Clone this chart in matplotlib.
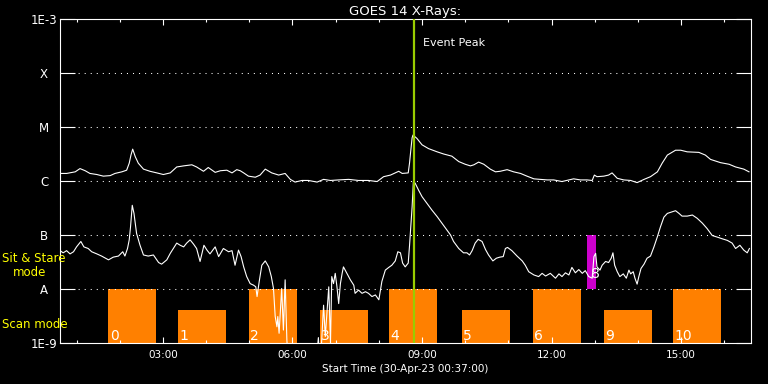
import numpy as np
import matplotlib.pyplot as plt
import matplotlib.ticker as mticker

# GOES 14 X-ray fluxes, hours after midnight and log10(W/m^2)
long_t = [0.62, 0.77, 0.97, 1.08, 1.20, 1.31, 1.47, 1.62, 1.78, 1.89,
          2.05, 2.16, 2.22, 2.26, 2.30, 2.36, 2.43, 2.55, 2.70, 2.86,
          3.01, 3.17, 3.32, 3.48, 3.67, 3.78, 3.94, 4.05, 4.21, 4.33,
          4.48, 4.60, 4.71, 4.79, 4.87, 4.98, 5.14, 5.25, 5.37, 5.52,
          5.68, 5.83, 5.95, 6.06, 6.22, 6.37, 6.57, 6.72, 6.88, 7.07,
          7.30, 7.53, 7.76, 7.96, 8.11, 8.27, 8.46, 8.54, 8.68, 8.71,
          8.74, 8.77, 8.79, 8.88, 9.00, 9.15, 9.35, 9.50, 9.69, 9.85,
          10.00, 10.12, 10.20, 10.31, 10.43, 10.58, 10.70, 10.81, 10.97, 11.12,
          11.28, 11.43, 11.59, 11.74, 11.90, 12.05, 12.24, 12.40, 12.51, 12.67,
          12.82, 12.94, 12.99, 13.05, 13.21, 13.32, 13.40, 13.52, 13.67, 13.83,
          13.98, 14.14, 14.29, 14.45, 14.56, 14.68, 14.87, 14.99, 15.14, 15.41,
          15.56, 15.68, 15.91, 16.11, 16.26, 16.45, 16.57]
long_logf = [-5.86, -5.86, -5.83, -5.77, -5.81, -5.86, -5.88, -5.91, -5.90, -5.86,
             -5.83, -5.80, -5.67, -5.52, -5.41, -5.55, -5.67, -5.78, -5.82, -5.85,
             -5.88, -5.85, -5.74, -5.72, -5.70, -5.74, -5.82, -5.75, -5.84, -5.81,
             -5.80, -5.85, -5.79, -5.81, -5.85, -5.91, -5.93, -5.89, -5.78, -5.85,
             -5.89, -5.86, -5.97, -6.02, -5.99, -5.99, -6.02, -5.97, -5.99, -5.98,
             -5.97, -5.99, -5.99, -6.01, -5.92, -5.89, -5.82, -5.86, -5.85, -5.67,
             -5.43, -5.20, -5.15, -5.21, -5.33, -5.40, -5.46, -5.50, -5.54, -5.64,
             -5.69, -5.72, -5.70, -5.65, -5.69, -5.78, -5.83, -5.82, -5.79, -5.83,
             -5.86, -5.91, -5.96, -5.97, -5.98, -5.98, -6.01, -5.98, -5.96, -5.98,
             -5.98, -5.99, -5.89, -5.92, -5.91, -5.89, -5.85, -5.95, -5.98, -5.99,
             -6.03, -5.97, -5.92, -5.83, -5.67, -5.52, -5.43, -5.43, -5.46, -5.47,
             -5.52, -5.60, -5.66, -5.69, -5.74, -5.78, -5.83]

short_t = [0.62, 0.69, 0.77, 0.85, 0.93, 1.00, 1.10, 1.17, 1.27, 1.35,
           1.47, 1.58, 1.74, 1.85, 1.97, 2.07, 2.12, 2.18, 2.22, 2.25,
           2.29, 2.33, 2.39, 2.47, 2.55, 2.66, 2.78, 2.90, 2.97, 3.09,
           3.17, 3.32, 3.40, 3.48, 3.55, 3.63, 3.71, 3.78, 3.86, 3.95,
           4.02, 4.09, 4.21, 4.29, 4.40, 4.52, 4.60, 4.67, 4.75,
           4.81, 4.87, 4.94, 5.02, 5.10, 5.15, 5.18, 5.23, 5.29, 5.37,
           5.45, 5.51, 5.56, 5.60, 5.64, 5.66, 5.69, 5.75, 5.79, 5.83,
           5.87, 5.91, 6.53, 6.60, 6.64, 6.72, 6.76, 6.84, 6.88, 6.91,
           6.95, 6.99, 7.03, 7.07, 7.11, 7.15, 7.18, 7.26, 7.34, 7.42,
           7.45, 7.53, 7.61, 7.69, 7.76, 7.84, 7.92, 8.00, 8.07, 8.15,
           8.23, 8.30, 8.38, 8.44, 8.50, 8.55, 8.61, 8.68, 8.71, 8.74,
           8.77, 8.80,
           8.84, 8.92, 9.00, 9.11, 9.23, 9.35, 9.46, 9.58, 9.66, 9.73,
           9.85, 9.96, 10.04, 10.10, 10.16, 10.23, 10.30, 10.39, 10.47, 10.54,
           10.64, 10.72, 10.80, 10.88, 10.93, 10.98, 11.08, 11.20, 11.32, 11.39,
           11.47, 11.59, 11.70, 11.78, 11.86, 11.97, 12.09, 12.17, 12.24, 12.32,
           12.40, 12.47, 12.55, 12.63, 12.71, 12.78, 12.86,
           12.94, 12.98, 13.02, 13.05, 13.12, 13.17, 13.25, 13.32, 13.38, 13.42,
           13.46, 13.52, 13.58, 13.66, 13.73, 13.79, 13.83, 13.89, 13.93, 13.98,
           14.02, 14.07, 14.14, 14.21, 14.29, 14.37, 14.45, 14.52, 14.60, 14.68,
           14.79, 14.87, 14.95, 15.02, 15.14, 15.26, 15.37, 15.49, 15.60, 15.72,
           15.84, 15.95, 16.07, 16.18, 16.26, 16.36, 16.45, 16.53, 16.58]
short_logf = [-7.29, -7.33, -7.29, -7.35, -7.31, -7.22, -7.12, -7.22, -7.25, -7.31,
              -7.35, -7.39, -7.46, -7.41, -7.39, -7.31, -7.39, -7.25, -7.09, -6.85,
              -6.45, -6.60, -6.97, -7.19, -7.37, -7.39, -7.37, -7.51, -7.54, -7.46,
              -7.34, -7.15, -7.19, -7.22, -7.15, -7.09, -7.17, -7.25, -7.49, -7.19,
              -7.28, -7.35, -7.22, -7.40, -7.25, -7.31, -7.29, -7.56, -7.28,
              -7.40, -7.59, -7.77, -7.90, -7.93, -7.96, -8.14, -7.86, -7.56, -7.48,
              -7.59, -7.77, -7.99, -8.51, -8.70, -8.51, -8.82, -7.99, -8.76, -7.83,
              -8.94, -9.50, -9.50, -8.90, -9.50, -8.30, -8.88, -7.96, -9.00, -7.77,
              -7.90, -7.71, -7.96, -8.27, -7.90, -7.71, -7.59, -7.71, -7.83, -7.93,
              -8.08, -8.02, -8.08, -8.05, -8.08, -8.14, -8.11, -8.20, -7.86, -7.65,
              -7.60, -7.56, -7.48, -7.31, -7.33, -7.52, -7.59, -7.52, -7.20, -6.85,
              -6.48, -6.01,
              -6.04, -6.17, -6.29, -6.41, -6.54, -6.66, -6.78, -6.91, -7.00, -7.12,
              -7.25, -7.33, -7.33, -7.37, -7.29, -7.15, -7.08, -7.12, -7.27, -7.37,
              -7.48, -7.43, -7.41, -7.40, -7.25, -7.23, -7.29, -7.39, -7.48, -7.56,
              -7.68, -7.74, -7.77, -7.71, -7.76, -7.71, -7.80, -7.72, -7.77, -7.70,
              -7.74, -7.60, -7.70, -7.64, -7.71, -7.66, -7.77,
              -7.80, -7.40, -7.34, -7.59, -7.65, -7.56, -7.49, -7.51, -7.43, -7.33,
              -7.56, -7.68, -7.77, -7.72, -7.80, -7.65, -7.72, -7.68, -7.80, -7.91,
              -7.77, -7.62, -7.54, -7.43, -7.39, -7.22, -7.03, -6.85, -6.67, -6.60,
              -6.57, -6.55, -6.60, -6.65, -6.65, -6.63, -6.69, -6.78, -6.88, -7.01,
              -7.04, -7.07, -7.10, -7.15, -7.25, -7.19, -7.28, -7.33, -7.25]

# scan mode orbits
scan_start = [1.74, 3.36, 4.99, 6.63, 8.23, 9.92, 11.57, 13.21, 14.81]
scan_len = 1.11
scan_top = [1e-8, 4e-9, 1e-8, 4e-9, 1e-8, 4e-9, 1e-8, 4e-9, 1e-8]
scan_labels = ['0', '1', '2', '3', '4', '5', '6', '9', '10']
# sit & stare
stare_start, stare_end = 12.82, 13.02
stare_label = '8'

peak_time = 8.81
t0, t1 = 0.617, 16.617

class_levels = [1e-9, 1e-8, 1e-7, 1e-6, 1e-5, 1e-4, 1e-3]
class_labels = ['1E-9', 'A', 'B', 'C', 'M', 'X', '1E-3']

fig = plt.figure(figsize=(7.68, 3.84), dpi=100, facecolor='black')
ax = fig.add_axes([60/768, 41/384, 691/768, 324/384])
ax.set_facecolor('black')
ax.set_yscale('log')
ax.set_xlim(t0, t1)
ax.set_ylim(1e-9, 1e-3)

# scan mode boxes
ax.bar(scan_start, np.array(scan_top) - 1e-9, bottom=1e-9, width=scan_len,
       align='edge', color='#ff8000', zorder=1)
for s, lab in zip(scan_start, scan_labels):
    ax.text(s + 0.03, 1.15e-9, lab, color='white', fontsize=10,
            ha='left', va='baseline', zorder=5)
ax.bar([stare_start], [1e-7 - 1e-8], bottom=1e-8, width=stare_end - stare_start,
       align='edge', color='#cc00cc', zorder=1)
ax.text(stare_start + 0.1, 10**-7.79, stare_label, color='white', fontsize=10,
        ha='left', va='baseline', zorder=5)

for v in class_levels[1:-1]:
    ax.axhline(v, color='white', lw=0.75, ls=(0, (1, 4.8)), zorder=2)

ax.plot(long_t, 10**np.array(long_logf), color='white', lw=0.8, zorder=3)
ax.plot(short_t, 10**np.array(short_logf), color='white', lw=0.8, zorder=3)

ax.axvline(peak_time, color='#99cc00', lw=1.6, zorder=4)
ax.text(peak_time + 0.22, 10**-3.44, 'Event Peak', color='white', fontsize=8,
        ha='left', va='center')

for sp in ax.spines.values():
    sp.set_color('white')
    sp.set_linewidth(0.8)

ax.yaxis.set_major_locator(mticker.FixedLocator(class_levels))
ax.yaxis.set_minor_locator(mticker.NullLocator())
ax.set_yticklabels(class_labels)
ax.yaxis.set_tick_params(which='major', direction='in', left=True, right=True,
                         length=11, width=0.8, color='white', labelcolor='white',
                         labelsize=8.5, pad=11.5)
for lab in ax.get_yticklabels():
    lab.set_horizontalalignment('center')

ax.xaxis.set_major_locator(mticker.FixedLocator([3, 6, 9, 12, 15]))
ax.xaxis.set_minor_locator(mticker.MultipleLocator(1))
ax.xaxis.set_major_formatter(mticker.FuncFormatter(lambda x, p: '%02d:00' % int(round(x))))
ax.xaxis.set_tick_params(which='major', direction='in', top=True, bottom=True,
                         length=4.5, width=0.8, color='white', labelcolor='white',
                         labelsize=7.5, pad=5)
ax.xaxis.set_tick_params(which='minor', direction='in', top=True, bottom=True,
                         length=2.5, width=0.8, color='white')

ax.set_xlabel('Start Time (30-Apr-23 00:37:00)', color='white', fontsize=7.5,
              labelpad=3)
ax.set_title('GOES 14 X-Rays:', color='white', fontsize=9.5, pad=3)

fig.text(2/768, 1 - 259/384, 'Sit & Stare', color='yellow', fontsize=8.5,
         ha='left', va='center')
fig.text(13/768, 1 - 272/384, 'mode', color='yellow', fontsize=8.5,
         ha='left', va='center')
fig.text(2/768, 1 - 324/384, 'Scan mode', color='yellow', fontsize=8.5,
         ha='left', va='center')

plt.savefig('out.png', dpi=100, facecolor='black')
plt.close()
